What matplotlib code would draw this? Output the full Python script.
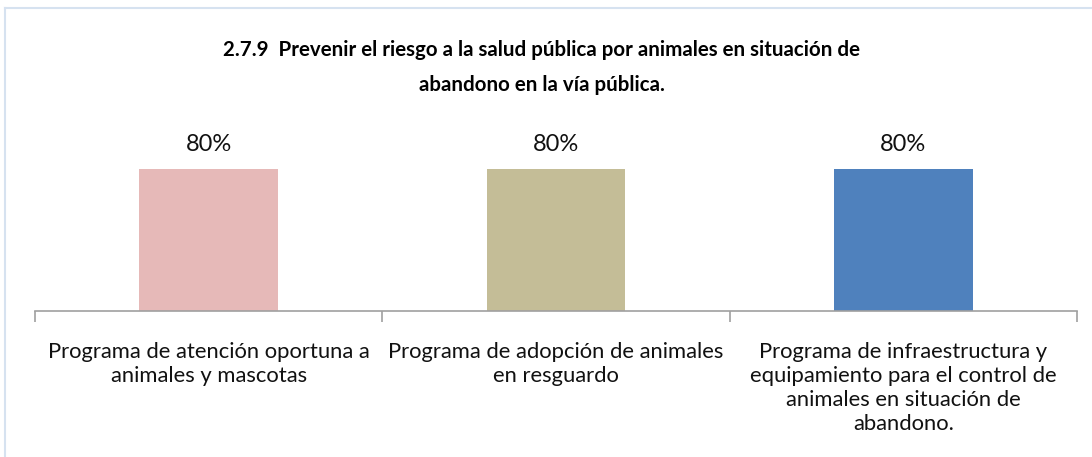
import matplotlib.pyplot as plt
from matplotlib.lines import Line2D

# Data
categories = [
    'Programa de atención oportuna a\nanimales y mascotas',
    'Programa de adopción de animales\nen resguardo',
    'Programa de infraestructura y\nequipamiento para el control de\nanimales en situación de\nabandono.',
]
values = [80, 80, 80]
colors = ['#E6B9B8', '#C4BD97', '#4F81BD']
title = ('2.7.9  Prevenir el riesgo a la salud pública por animales en situación de\n'
         'abandono en la vía pública.')

plt.rcParams['font.family'] = ['Lato', 'DejaVu Sans']

fig = plt.figure(figsize=(10.92, 4.57), dpi=100)
ax = fig.add_axes([35 / 1092, 1 - 311 / 457, 1042 / 1092, 177.5 / 457])

x = list(range(len(categories)))
bars = ax.bar(x, values, width=0.4, color=colors, zorder=2)
for b, v in zip(bars, values):
    ax.text(b.get_x() + b.get_width() / 2, v + 14, f'{v}%', ha='center',
            va='center', fontsize=17, color='#111111')

ax.set_xlim(-0.5, len(categories) - 0.5)
ax.set_ylim(0, 100)
ax.set_yticks([])
for s in ['top', 'right', 'left']:
    ax.spines[s].set_visible(False)
ax.spines['bottom'].set_color('#A0A0A0')
ax.spines['bottom'].set_linewidth(1.2)

# tick marks between categories
ax.set_xticks([i - 0.5 for i in range(len(categories) + 1)])
ax.set_xticklabels([])
ax.tick_params(axis='x', length=8, color='#A0A0A0', width=1.2, direction='out')
for i, c in enumerate(categories):
    ax.text(i, -17.5, c, ha='center', va='top', fontsize=15.8, linespacing=1.25,
            transform=ax.transData, color='#111111')

fig.text(0.496, 1 - 67.5 / 457, title, ha='center', va='center', fontsize=14.8,
         fontweight='bold', linespacing=1.95)

# chart area border (top and left visible)
fig.add_artist(Line2D([5 / 1092, 1], [1 - 8 / 457, 1 - 8 / 457], color='#D6E2F0',
                      lw=1.5, transform=fig.transFigure))
fig.add_artist(Line2D([5 / 1092, 5 / 1092], [0, 1 - 8 / 457], color='#D6E2F0',
                      lw=1.5, transform=fig.transFigure))

fig.savefig('out.png', dpi=100)
